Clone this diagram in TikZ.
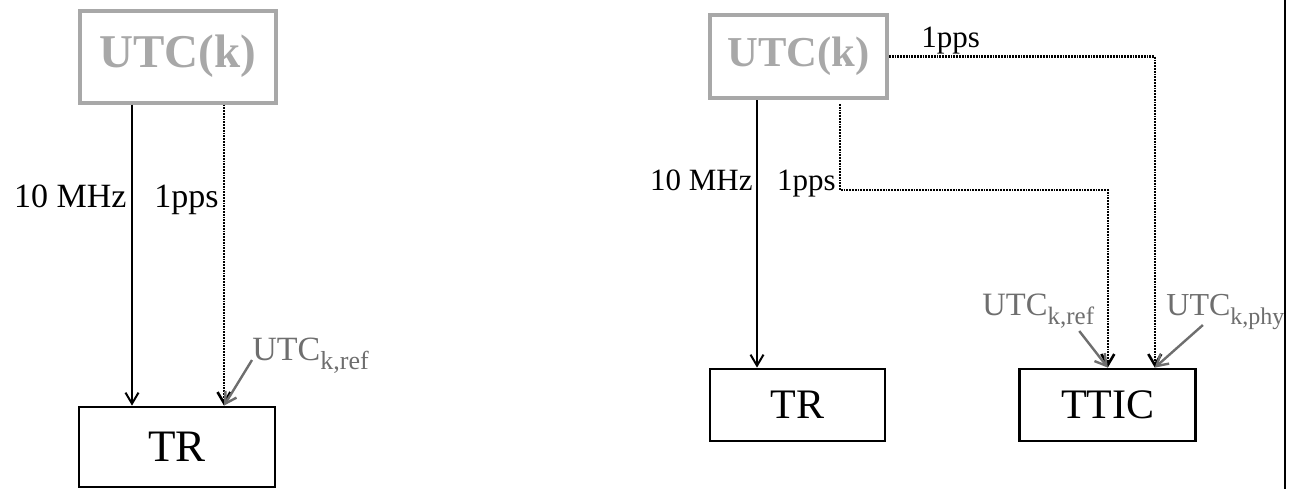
\documentclass[tikz,border=0pt]{standalone}
\usepackage{fontspec}
\setmainfont{Liberation Serif}
\usepackage{xcolor}
\usetikzlibrary{arrows.meta,positioning}
\definecolor{utcgray}{RGB}{168,168,168}
\definecolor{labgray}{RGB}{110,110,110}
\newcommand{\lowsub}[2][13pt]{\raisebox{-4.5pt}{\fontsize{#1}{#1}\selectfont #2}}

\begin{document}
\begin{tikzpicture}[x=0.5pt,y=-0.5pt,
src/.style={draw=utcgray,line width=2pt,text=utcgray,inner sep=0pt,font=\bfseries\fontsize{23.5pt}{24pt}\selectfont},
dev/.style={draw=black,line width=1.4pt,inner sep=0pt,font=\fontsize{22.5pt}{23pt}\selectfont},
lab/.style={inner sep=0pt,font=\fontsize{17pt}{18pt}\selectfont},
reflab/.style={lab,text=labgray},
arr/.style={-{Straight Barb[length=5.5pt,width=6.5pt]},line width=1pt},
ppsline/.style={arr,line width=1.3pt,dash pattern=on 0.9pt off 0.5pt},
garr/.style={-{Straight Barb[length=5.5pt,width=6.5pt]},draw=labgray,line width=1.2pt}]
\useasboundingbox (0,0) rectangle (1295,489);
% left: UTC(k) feeding the TR
\node[src,minimum width=98pt,minimum height=46pt] (utcL) at (177.5,56.5) {UTC(k)};
\node[dev,minimum width=98pt,minimum height=40pt] (trL) at (177,447) {TR};
\node[lab,anchor=base east] (mhzL) at (127,207) {10 MHz};
\node[lab,anchor=base east] (ppsL) at (219,207) {1pps};
\node[reflab,anchor=base west] (refL) at (252,360) {UTC\lowsub{k,ref}};
% right: UTC(k) feeding the TR and the TTIC
\node[src,minimum width=88.5pt,minimum height=41.5pt,font=\bfseries\fontsize{21.3pt}{22pt}\selectfont] (utcR) at (798.5,56.5) {UTC(k)};
\node[dev,minimum width=87.5pt,minimum height=36pt,font=\fontsize{21pt}{22pt}\selectfont] (trR) at (797.5,405) {TR};
\node[dev,minimum width=88pt,minimum height=36pt,font=\fontsize{21pt}{22pt}\selectfont,right=66pt of trR] (ttic) {TTIC};
\node[lab,anchor=base east,font=\fontsize{15.5pt}{16pt}\selectfont] (mhzR) at (753,190) {10 MHz};
\node[lab,anchor=base east,font=\fontsize{15.5pt}{16pt}\selectfont] (ppsR) at (836,190) {1pps};
\node[lab,anchor=base west,font=\fontsize{15.5pt}{16pt}\selectfont] (ppsT) at (921,47) {1pps};
\node[reflab,anchor=base west,font=\fontsize{16.3pt}{17pt}\selectfont] (refR) at (982,315) {UTC\lowsub[12.5pt]{k,ref}};
\node[reflab,anchor=base west,font=\fontsize{16pt}{17pt}\selectfont] (phyR) at (1166,315) {UTC\lowsub[12pt]{k,phy}};
\draw[arr]([xshift=-22.75pt]utcL.south)--([xshift=-22.5pt]trL.north);\draw[ppsline]([xshift=23.25pt]utcL.south)--([xshift=23.5pt]trL.north);\draw[garr](refL.base west)--([xshift=23.5pt]trL.north);
\draw[arr]([xshift=-20.75pt]utcR.south)--([xshift=-20.25pt]trR.north);\draw[ppsline]([xshift=20.75pt,yshift=-2pt]utcR.south)--++(0,86)-|(ttic.north);\draw[ppsline](utcR.east)-|([xshift=23.5pt]ttic.north);
\draw[garr]([xshift=20.5pt,yshift=-8pt]refR.base)--(ttic.north);\draw[garr]([xshift=-11.25pt,yshift=-5pt]phyR.base)--([xshift=23.5pt]ttic.north);
\draw[line width=1.3pt](1285,0)--(1285,489);
\end{tikzpicture}
\end{document}
